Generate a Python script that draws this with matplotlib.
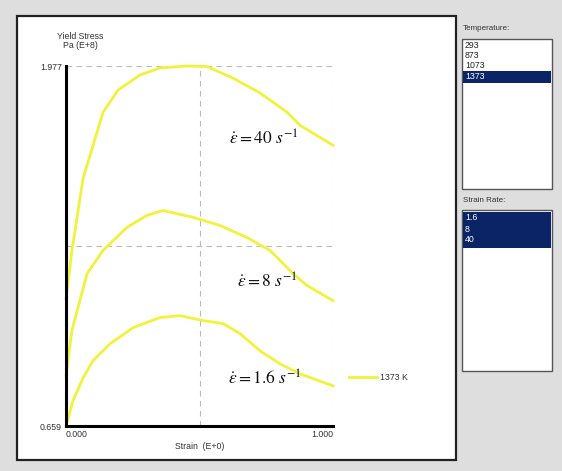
import numpy as np
import matplotlib
matplotlib.use("Agg")
import matplotlib.pyplot as plt
from matplotlib.patches import Rectangle

plt.rcParams['font.family'] = ['Liberation Sans', 'DejaVu Sans']
plt.rcParams['mathtext.fontset'] = 'stix'

# strain values (E+0) and yield stress (Pa E+8), T = 1373 K
strain_40 = [0.0, 0.022, 0.064, 0.139, 0.195, 0.277, 0.352, 0.453, 0.528, 0.625, 0.727, 0.828, 0.876, 1.0]
stress_40 = [1.125, 1.30, 1.566, 1.808, 1.889, 1.944, 1.970, 1.977, 1.975, 1.933, 1.878, 1.808, 1.760, 1.687]

strain_8 = [0.0, 0.022, 0.079, 0.139, 0.228, 0.303, 0.363, 0.476, 0.577, 0.678, 0.764, 0.850, 0.903, 1.0]
stress_8 = [0.843, 1.008, 1.217, 1.302, 1.386, 1.430, 1.448, 1.423, 1.393, 1.349, 1.302, 1.217, 1.173, 1.118]

strain_16 = [0.0, 0.026, 0.064, 0.101, 0.165, 0.251, 0.352, 0.427, 0.513, 0.588, 0.652, 0.727, 0.801, 0.876, 1.0]
stress_16 = [0.659, 0.751, 0.835, 0.898, 0.960, 1.019, 1.056, 1.063, 1.045, 1.034, 0.997, 0.934, 0.887, 0.850, 0.806]

y_min, y_max = 0.659, 1.977
x_min, x_max = 0.0, 1.0
grid_x = [0.5, 1.0]
grid_y = [1.318, 1.977]

temperatures = ['293', '873', '1073', '1373']
strain_rates = ['1.6', '8', '40']
rate_labels = [r'$\dot{\varepsilon} = 40\ s^{-1}$', r'$\dot{\varepsilon} = 8\ s^{-1}$', r'$\dot{\varepsilon} = 1.6\ s^{-1}$']
label_pos = [(0.61, 1.712), (0.64, 1.19), (0.605, 0.835)]

W, H = 562, 471
fig = plt.figure(figsize=(W / 100, H / 100), dpi=100)
fig.patch.set_facecolor('#dedede')

def box(x0, y0, x1, y1, **kw):
    # pixel coords (top-left origin) -> figure rectangle
    r = Rectangle((x0 / W, 1 - y1 / H), (x1 - x0) / W, (y1 - y0) / H,
                  transform=fig.transFigure, zorder=-5, **kw)
    fig.add_artist(r)

# main white panel
box(17, 16, 456, 460, facecolor='white', edgecolor='#222222', linewidth=1.6)
# listboxes
box(462, 39, 552, 189, facecolor='white', edgecolor='#555555', linewidth=1.0)
box(462, 210, 552, 371, facecolor='white', edgecolor='#555555', linewidth=1.0)
box(463, 71, 551, 83, facecolor='#0a2466', edgecolor='none')
box(463, 212, 551, 248, facecolor='#0a2466', edgecolor='none')

fig.text(463 / W, 1 - 28 / H, 'Temperature:', fontsize=5.8, color='#333333', va='center')
for i, t in enumerate(temperatures):
    c = 'white' if t == '1373' else '#222222'
    fig.text(465 / W, 1 - (45 + 10.5 * i) / H, t, fontsize=6.3, color=c, va='center')
fig.text(463 / W, 1 - 201 / H, 'Strain Rate:', fontsize=5.8, color='#333333', va='center')
for i, s in enumerate(strain_rates):
    fig.text(465 / W, 1 - (218 + 11 * i) / H, s, fontsize=6.3, color='white', va='center')

ax = fig.add_axes([66 / W, 1 - 426 / H, (333 - 66) / W, (426 - 66) / H])
ax.set_facecolor('none')
ax.set_xlim(x_min, x_max)
ax.set_ylim(y_min, y_max)

for gx in grid_x:
    ax.axvline(gx, color='#bbbbbb', linestyle=(0, (5, 4)), linewidth=0.8)
for gy in grid_y:
    ax.axhline(gy, color='#bbbbbb', linestyle=(0, (5, 4)), linewidth=0.8)

yellow = '#f2f23c'
ax.plot(strain_40, stress_40, color=yellow, linewidth=2, clip_on=False)
ax.plot(strain_8, stress_8, color=yellow, linewidth=2, clip_on=False)
ax.plot(strain_16, stress_16, color=yellow, linewidth=2, clip_on=False, label='1373 K')

for txt, (tx, ty) in zip(rate_labels, label_pos):
    ax.text(tx, ty, txt, fontsize=12.5, color='#111111', ha='left', va='center')

for s in ['top', 'right']:
    ax.spines[s].set_visible(False)
for s in ['left', 'bottom']:
    ax.spines[s].set_linewidth(2.2)
    ax.spines[s].set_color('black')

ax.set_xticks([x_min, x_max])
ax.set_xticklabels(['0.000', '1.000'], fontsize=6.3, color='#333333')
xl = ax.get_xticklabels()
xl[0].set_ha('left')
xl[1].set_ha('right')
ax.set_yticks([y_min, y_max])
ax.set_yticklabels(['0.659', '1.977'], fontsize=6.3, color='#333333')
ax.tick_params(length=0, pad=3)
ax.set_xlabel('Strain  (E+0)', fontsize=6.3, color='#333333', labelpad=2)

fig.text(80 / W, 1 - 41 / H, 'Yield Stress\nPa (E+8)', fontsize=6.3, color='#333333',
         ha='center', va='center', linespacing=1.0)

ax.legend(loc='center left', bbox_to_anchor=(1.03, 0.135), frameon=False, fontsize=6.3,
          handlelength=3.2, handletextpad=0.3, labelcolor='#333333')

fig.savefig('out.png', dpi=100, facecolor=fig.get_facecolor())
